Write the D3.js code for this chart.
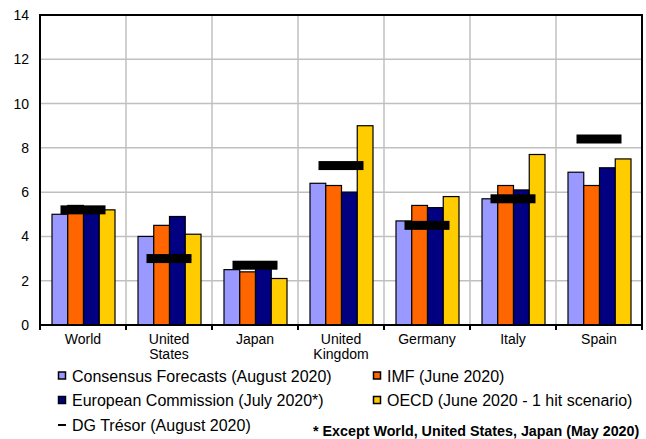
<!DOCTYPE html>
<html>
<head>
<meta charset="utf-8">
<script src="https://cdn.jsdelivr.net/npm/d3@7.9.0/dist/d3.min.js"></script>
<style>
  body { margin: 0; background: #fff; }
  svg { display: block; font-family: Arial, 'Liberation Sans', sans-serif; }
</style>
</head>
<body>
<div id="chart"></div>
<script>
const categories = ['World', 'United\nStates', 'Japan', 'United\nKingdom', 'Germany', 'Italy', 'Spain'];
const seriesNames = [
  'Consensus Forecasts (August 2020)',
  'IMF (June 2020)',
  'European Commission (July 2020*)',
  'OECD (June 2020 - 1 hit scenario)'
];
const seriesColors = ['#9999ff', '#ff6600', '#000080', '#ffcc00'];
const consensus = [5.0, 4.0, 2.5, 6.4, 4.7, 5.7, 6.9];
const imf = [5.4, 4.5, 2.4, 6.3, 5.4, 6.3, 6.3];
const commission = [5.3, 4.9, 2.6, 6.0, 5.3, 6.1, 7.1];
const oecd = [5.2, 4.1, 2.1, 9.0, 5.8, 7.7, 7.5];
const tresor = [5.2, 3.0, 2.7, 7.2, 4.5, 5.7, 8.4];
const yTicks = [0, 2, 4, 6, 8, 10, 12, 14];
const footnote = '* Except World, United States, Japan (May 2020)';

const seriesValues = [consensus, imf, commission, oecd];

const width = 646, height = 439;
const plot = { left: 40, right: 642, top: 15, bottom: 325 };

const svg = d3.select('#chart').append('svg')
  .attr('width', width)
  .attr('height', height);

const x0 = d3.scaleBand()
  .domain(categories)
  .range([plot.left, plot.right]);

const x1 = d3.scaleBand()
  .domain(d3.range(seriesNames.length))
  .range([12, 75]);

const y = d3.scaleLinear()
  .domain([0, 14])
  .range([plot.bottom, plot.top]);

// gridlines
const grid = svg.append('g').attr('stroke', '#c0c0c0').attr('stroke-width', 1.5);
grid.selectAll('line.h')
  .data(yTicks.filter(d => d > 0 && d < 14))
  .join('line')
  .attr('class', 'h')
  .attr('x1', plot.left).attr('x2', plot.right)
  .attr('y1', d => y(d)).attr('y2', d => y(d));
grid.selectAll('line.v')
  .data(categories.slice(1))
  .join('line')
  .attr('class', 'v')
  .attr('x1', d => x0(d)).attr('x2', d => x0(d))
  .attr('y1', plot.top).attr('y2', plot.bottom);

// bars
const groups = svg.append('g')
  .selectAll('g')
  .data(categories)
  .join('g')
  .attr('transform', d => `translate(${x0(d)},0)`);

groups.selectAll('rect')
  .data((d, i) => seriesValues.map((vals, s) => ({ s, v: vals[i] })))
  .join('rect')
  .attr('x', d => x1(d.s))
  .attr('width', x1.bandwidth())
  .attr('y', d => y(d.v))
  .attr('height', d => y(0) - y(d.v))
  .attr('fill', d => seriesColors[d.s])
  .attr('stroke', '#000')
  .attr('stroke-width', 1.2);

// DG Tresor markers
svg.append('g')
  .selectAll('rect')
  .data(categories)
  .join('rect')
  .attr('x', d => x0(d) + x0.bandwidth() / 2 - 22.5)
  .attr('width', 45)
  .attr('y', (d, i) => y(tresor[i]) - 4.5)
  .attr('height', 9)
  .attr('fill', '#000');

// frame
svg.append('rect')
  .attr('x', plot.left).attr('y', plot.top)
  .attr('width', plot.right - plot.left)
  .attr('height', plot.bottom - plot.top)
  .attr('fill', 'none')
  .attr('stroke', '#000')
  .attr('stroke-width', 2);

// y axis labels
const yAxis = svg.append('g')
  .attr('transform', `translate(${plot.left},0)`)
  .call(d3.axisLeft(y).tickValues(yTicks).tickSize(0).tickPadding(11));
yAxis.select('.domain').remove();
yAxis.selectAll('text')
  .attr('font-size', 14)
  .attr('font-family', null)
  .attr('fill', '#000');

// x axis ticks and labels
svg.append('g')
  .selectAll('line')
  .data(categories.map(d => x0(d)).concat([plot.right]))
  .join('line')
  .attr('x1', d => d).attr('x2', d => d)
  .attr('y1', plot.bottom).attr('y2', plot.bottom + 5)
  .attr('stroke', '#000')
  .attr('stroke-width', 2);

const xLabels = svg.append('g')
  .selectAll('text')
  .data(categories)
  .join('text')
  .attr('x', d => x0(d) + x0.bandwidth() / 2)
  .attr('y', 344)
  .attr('text-anchor', 'middle')
  .attr('font-size', 14)
  .attr('fill', '#000');
xLabels.selectAll('tspan')
  .data(d => d.split('\n'))
  .join('tspan')
  .attr('x', function () { return d3.select(this.parentNode).attr('x'); })
  .attr('dy', (d, i) => i === 0 ? 0 : 15)
  .text(d => d);

// legend
const legendPos = [
  { x: 58, y: 381.5 },
  { x: 373, y: 381.5 },
  { x: 58, y: 406 },
  { x: 373, y: 406 }
];
const legend = svg.append('g');
seriesNames.forEach((name, i) => {
  const p = legendPos[i];
  legend.append('rect')
    .attr('x', p.x + 0.5).attr('y', p.y - 9.5)
    .attr('width', 7).attr('height', 7)
    .attr('fill', seriesColors[i])
    .attr('stroke', '#000')
    .attr('stroke-width', 1.5);
  legend.append('text')
    .attr('x', p.x + 14).attr('y', p.y)
    .attr('font-size', 16)
    .attr('fill', '#000')
    .text(name);
});
legend.append('line')
  .attr('x1', 58).attr('x2', 66)
  .attr('y1', 425).attr('y2', 425)
  .attr('stroke', '#000')
  .attr('stroke-width', 2);
legend.append('text')
  .attr('x', 72).attr('y', 430.5)
  .attr('font-size', 16)
  .attr('fill', '#000')
  .text('DG Trésor (August 2020)');

svg.append('text')
  .attr('x', 313).attr('y', 436)
  .attr('font-size', 14.3)
  .attr('font-weight', 'bold')
  .attr('fill', '#000')
  .text(footnote);
</script>
</body>
</html>
